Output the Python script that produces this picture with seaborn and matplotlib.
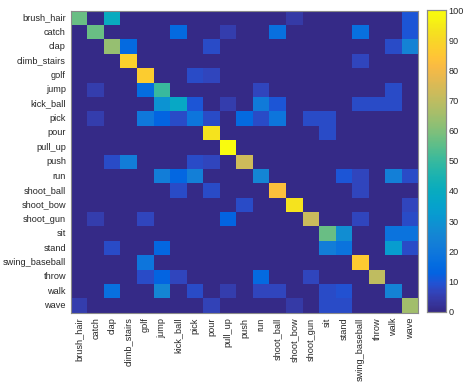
import numpy as np
import pandas as pd
import matplotlib
matplotlib.use("Agg")
import matplotlib.pyplot as plt
import seaborn as sns
from matplotlib.colors import LinearSegmentedColormap

classes = ["brush_hair", "catch", "clap", "climb_stairs", "golf", "jump", "kick_ball",
           "pick", "pour", "pull_up", "push", "run", "shoot_ball", "shoot_bow",
           "shoot_gun", "sit", "stand", "swing_baseball", "throw", "walk", "wave"]

# non-zero entries per row: {column index: value}
row_brush_hair = {0: 57, 2: 40, 13: 4, 20: 10}
row_catch = {1: 57, 6: 15, 9: 5, 12: 17, 17: 17, 20: 10}
row_clap = {2: 63, 3: 15, 8: 8, 19: 8, 20: 24}
row_climb_stairs = {3: 88, 17: 7}
row_golf = {4: 87, 7: 8, 8: 7}
row_jump = {1: 5, 4: 16, 5: 50, 11: 7, 19: 8}
row_kick_ball = {5: 30, 6: 38, 7: 10, 9: 5, 11: 21, 12: 10, 17: 8, 18: 8, 19: 8}
row_pick = {1: 5, 4: 20, 5: 13, 6: 8, 7: 19, 8: 8, 10: 15, 11: 8, 12: 19, 14: 8, 15: 8}
row_pour = {8: 93, 15: 8}
row_pull_up = {9: 100}
row_push = {2: 8, 3: 22, 7: 8, 8: 7, 10: 73}
row_run = {5: 22, 6: 14, 7: 23, 11: 25, 16: 10, 17: 7, 19: 23, 20: 8}
row_shoot_ball = {6: 8, 8: 8, 12: 83, 17: 7}
row_shoot_bow = {10: 8, 13: 93, 20: 7}
row_shoot_gun = {1: 5, 4: 7, 9: 13, 14: 72, 17: 7, 20: 8}
row_sit = {15: 57, 16: 28, 19: 18, 20: 18}
row_stand = {2: 8, 5: 14, 15: 22, 16: 18, 19: 33, 20: 8}
row_swing_baseball = {4: 19, 17: 86}
row_throw = {4: 8, 5: 13, 6: 7, 11: 15, 14: 7, 18: 70}
row_walk = {2: 17, 5: 25, 7: 8, 9: 5, 11: 7, 12: 7, 15: 8, 16: 9, 19: 24}
row_wave = {0: 5, 8: 6, 13: 4, 15: 8, 16: 8, 20: 65}

rows = [row_brush_hair, row_catch, row_clap, row_climb_stairs, row_golf, row_jump,
        row_kick_ball, row_pick, row_pour, row_pull_up, row_push, row_run,
        row_shoot_ball, row_shoot_bow, row_shoot_gun, row_sit, row_stand,
        row_swing_baseball, row_throw, row_walk, row_wave]

n = len(classes)
mat = np.zeros((n, n))
for i, r in enumerate(rows):
    for j, v in r.items():
        mat[i, j] = v
df = pd.DataFrame(mat, index=classes, columns=classes)

# parula-like colormap
parula_pts = [
    (0.2081, 0.1663, 0.5292), (0.2123, 0.2138, 0.6270), (0.1959, 0.2645, 0.7279),
    (0.1253, 0.3242, 0.8303), (0.0117, 0.3875, 0.8820), (0.0165, 0.4266, 0.8786),
    (0.0498, 0.4586, 0.8641), (0.0723, 0.4887, 0.8467), (0.0793, 0.5200, 0.8312),
    (0.0641, 0.5570, 0.8240), (0.0343, 0.5966, 0.8199), (0.0239, 0.6287, 0.8038),
    (0.0228, 0.6535, 0.7768), (0.0384, 0.6743, 0.7436), (0.0843, 0.6928, 0.7062),
    (0.1453, 0.7098, 0.6646), (0.2178, 0.7250, 0.6193), (0.3022, 0.7376, 0.5712),
    (0.3953, 0.7459, 0.5244), (0.4871, 0.7491, 0.4840), (0.5709, 0.7485, 0.4494),
    (0.6473, 0.7456, 0.4188), (0.7184, 0.7411, 0.3905), (0.7858, 0.7356, 0.3633),
    (0.8507, 0.7299, 0.3360), (0.9139, 0.7258, 0.3063), (0.9739, 0.7314, 0.2666),
    (0.9990, 0.7653, 0.2164), (0.9880, 0.8066, 0.1794), (0.9697, 0.8481, 0.1475),
    (0.9589, 0.8949, 0.1132), (0.9661, 0.9514, 0.0755), (0.9763, 0.9831, 0.0538),
]
parula = LinearSegmentedColormap.from_list("parula", parula_pts, N=256)

sns.set_style("white")
plt.rcParams["font.family"] = ["Liberation Sans", "DejaVu Sans"]

fig = plt.figure(figsize=(4.66, 3.89), dpi=100)
ax = fig.add_axes([0.152, 0.196, 0.746, 0.7765])
cax = fig.add_axes([0.917, 0.199, 0.040, 0.775])

sns.heatmap(df, ax=ax, cbar_ax=cax, cmap=parula, vmin=0, vmax=100,
            cbar_kws={"ticks": np.arange(0, 101, 10)})

ax.set_xticks(np.arange(n) + 0.5)
ax.set_yticks(np.arange(n) + 0.5)
ax.set_xticklabels(classes, rotation=90, fontsize=6.6)
ax.set_yticklabels(classes, rotation=0, fontsize=6.6)
ax.tick_params(axis="both", which="major", length=0, pad=3.5, colors="#262626")
ax.set_xticks(np.arange(1, n, 2) + 0.5, minor=True)
ax.set_yticks(np.arange(1, n, 2) + 0.5, minor=True)
ax.tick_params(axis="both", which="minor", direction="in", length=3, width=0.6,
               color="#262626", top=True, right=True, bottom=True, left=True)
for s in ax.spines.values():
    s.set_visible(True)
    s.set_color("#8a8a8a")
    s.set_linewidth(0.8)

cax.tick_params(labelsize=6.6, direction="in", length=3, width=0.6, pad=2, colors="#262626")
for s in cax.spines.values():
    s.set_visible(True)
    s.set_color("#8a8a8a")
    s.set_linewidth(0.8)
cax.yaxis.set_ticks_position("right")

fig.savefig("out.png", dpi=100)
